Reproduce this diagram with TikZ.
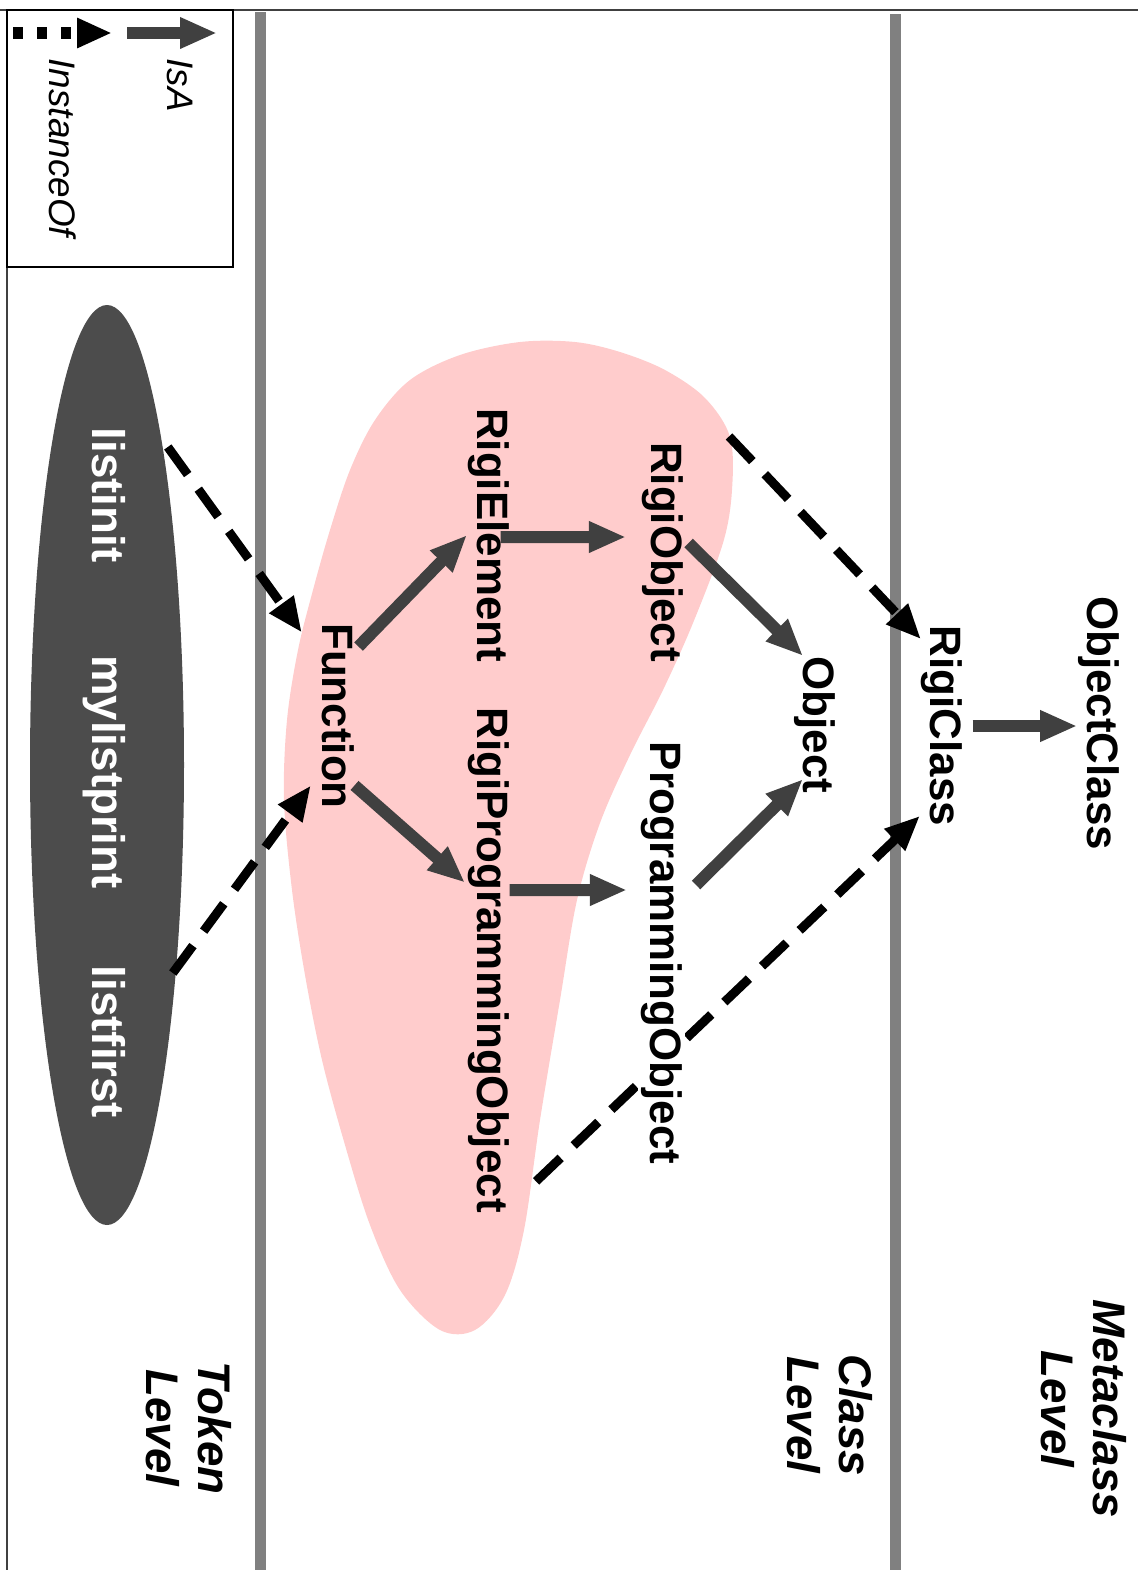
\documentclass[tikz,border=0pt]{standalone}
\usepackage{fontspec}
\setmainfont{Liberation Sans}
\usetikzlibrary{arrows.meta,calc}
\definecolor{blobpink}{RGB}{255,204,204}
\definecolor{tokengray}{RGB}{76,76,76}
\definecolor{isagray}{RGB}{64,64,64}
\definecolor{levelgray}{RGB}{128,128,128}
\pgfdeclarelayer{back}
\pgfdeclarelayer{links}
\pgfsetlayers{back,links,main}

\begin{document}
\begin{tikzpicture}[rotate=-90, transform shape,
    cls/.style={font=\bfseries\fontsize{12.5}{15}\selectfont, inner sep=0pt, anchor=base},
    tok/.style={cls, text=white, font=\bfseries\fontsize{13}{15}\selectfont},
    lvl/.style={font=\bfseries\itshape\fontsize{13}{14.8}\selectfont, align=center, inner sep=0pt},
    legendtext/.style={font=\itshape\fontsize{10.5}{12}\selectfont, inner sep=0pt, anchor=base west},
    isa/.style={-{Triangle[length=3.7mm,width=2.9mm]}, line width=1.2mm, isagray},
    inst/.style={-{Triangle[length=3.5mm,width=2.8mm]}, line width=0.9mm, black, dash pattern=on 3.4mm off 1.8mm}]
    \useasboundingbox (0,0) rectangle (15.70,11.38);

    \begin{pgfonlayer}{back}
    % the Rigi classes
    \fill[blobpink] plot[smooth cycle, tension=0.55] coordinates {
        (3.42,5.20) (3.42,5.75) (3.52,6.20) (3.70,6.65) (3.98,7.05) (4.37,7.30)
        (4.90,7.32) (5.43,7.23) (6.23,6.93) (6.90,6.63) (7.55,6.30) (8.23,6.00)
        (9.00,5.77) (10.00,5.60) (11.20,5.40) (12.30,5.24) (12.95,5.05) (13.30,4.75)
        (13.30,4.40) (12.90,4.00) (12.25,3.70) (11.45,3.45) (10.60,3.22) (9.75,3.05)
        (8.90,2.92) (8.00,2.84) (7.20,2.87) (6.50,2.98) (5.90,3.13) (5.30,3.30)
        (4.70,3.50) (4.20,3.75) (3.80,4.10) (3.55,4.60)};

    % level separators and frame
    \draw[levelgray, line width=1.1mm] (0.12,2.60) -- (15.70,2.60);
    \draw[levelgray, line width=1.1mm] (0.14,8.95) -- (15.70,8.95);
    \draw[black!75, line width=0.7pt] (0.10,0) -- (0.10,11.38);
    \draw[black!75, line width=0.7pt] (0.10,0.07) -- (15.70,0.07);

    % token set
    \fill[tokengray] (7.65,1.07) ellipse [x radius=4.60, y radius=0.77];
    \end{pgfonlayer}

    % legend
    \draw[line width=0.7pt] (0.10,0.07) rectangle (2.67,2.33);
    \coordinate (isaS) at (0.33,1.27);
    \coordinate (isaE) at (0.33,2.17);
    \coordinate (instS) at (0.33,0.13);
    \coordinate (instE) at (0.33,1.12);
    \draw[isa] (isaS) -- (isaE);
    \draw[inst, line width=1.2mm, dash pattern=on 1mm off 1.4mm] (instS) -- (instE);
    \node[legendtext] (isalbl) at (0.58,1.67) {IsA};
    \node[legendtext] (instlbl) at (0.58,0.50) {InstanceOf};

    % token level
    \node[tok] (listinit) at (4.95,0.93) {listinit};
    \node[tok] (mylistprint) at (7.72,0.93) {mylistprint};
    \node[tok] (listfirst) at (10.42,0.93) {listfirst};

    % class level
    \node[cls] (Function) at (7.16,3.22) {Function};
    \node[cls] (RigiElement) at (5.35,4.77) {RigiElement};
    \node[cls] (RigiProgrammingObject) at (9.60,4.77) {RigiProgrammingObject};
    \node[cls] (RigiObject) at (5.52,6.51) {RigiObject};
    \node[cls, fill=white, inner sep=0.3mm] (ProgrammingObject) at (9.53,6.50) {ProgrammingObject};
    \node[cls] (Object) at (7.25,8.03) {Object};

    % metaclass level
    \node[cls] (RigiClass) at (7.26,9.30) {RigiClass};
    \node[cls] (ObjectClass) at (7.23,10.87) {ObjectClass};

    \node[lvl] (metalvl) at (14.09,10.84) {Metaclass\\Level};
    \node[lvl] (classlvl) at (14.15,8.30) {Class\\Level};
    \node[lvl] (tokenlvl) at (14.28,1.89) {Token\\Level};

    \begin{pgfonlayer}{links}
    % IsA links
    \draw[isa] ($(Function.north west)+(0.24,0.04)$) -- (RigiElement.south);
    \draw[isa] ($(RigiElement.north)+(0.02,-0.09)$) -- ($(RigiObject.south)+(-0.15,-0.15)$);
    \draw[isa] ($(RigiObject.north)+(-0.09,0.05)$) -- (Object.base west);
    \draw[isa] ($(Function.north east)+(-0.24,0)$) -- ($(RigiProgrammingObject.south west)+(1.76,-0.02)$);
    \draw[isa] ($(RigiProgrammingObject.north)+(-0.70,0)$) -- ($(ProgrammingObject.south)+(-0.63,-0.10)$);
    \draw[isa] ($(ProgrammingObject.north)+(-0.68,0.105)$) -- ($(Object.base east)+(-0.15,0)$);
    \draw[isa, shorten <=1mm] (RigiClass.north) -- (RigiClass.north |- ObjectClass.south);

    % InstanceOf links
    \draw[inst] ($(listinit.north)+(-0.48,0.41)$) -- ($(Function.south west)+(0.10,-0.19)$);
    \draw[inst] ($(listfirst.north)+(-0.69,0.46)$) -- ($(Function.south east)+(-0.24,-0.10)$);
    \draw[inst] ($(RigiObject.north west)+(-0.05,0.455)$) -- ($(RigiClass.south west)+(0.14,0.01)$);
    \draw[inst] ($(RigiProgrammingObject.north east)+(-0.32,0.265)$) -- ($(RigiClass.south east)+(-0.11,0)$);
    \end{pgfonlayer}
\end{tikzpicture}
\end{document}
